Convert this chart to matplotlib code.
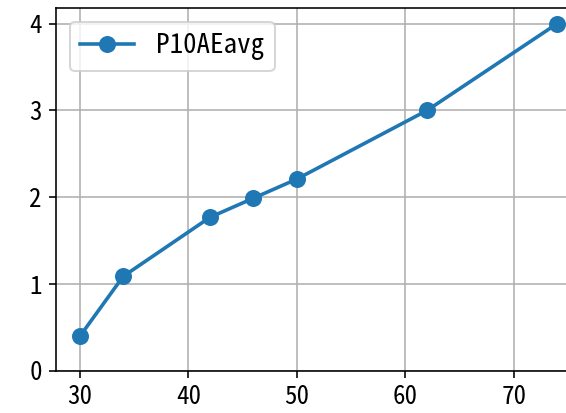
import matplotlib
matplotlib.use("Agg")
import matplotlib.pyplot as plt

plt.rcParams['font.family'] = ['Noto Sans Mono CJK JP', 'Noto Sans CJK JP', 'DejaVu Sans']
plt.rcParams['font.size'] = 12.5

x = [30, 34, 42, 46, 50, 62, 74]
p10_ae_avg = [0.40, 1.09, 1.77, 1.99, 2.21, 3.00, 4.00]
y_ticks = [0, 1, 2, 3, 4]

dpi = 144
fig = plt.figure(figsize=(566 / dpi, 413 / dpi), dpi=dpi)
ax = fig.add_axes([56 / 566, 42 / 413, 525 / 566, 363 / 413])

ax.plot(x, p10_ae_avg, marker='o', markersize=7.5, linewidth=1.8, label='P10AEavg')
ax.set_ylim(bottom=0)
ax.set_yticks(y_ticks)
ax.grid(True)
ax.legend(loc='upper left', fontsize=13.5)

fig.savefig('out.png', dpi=dpi)
